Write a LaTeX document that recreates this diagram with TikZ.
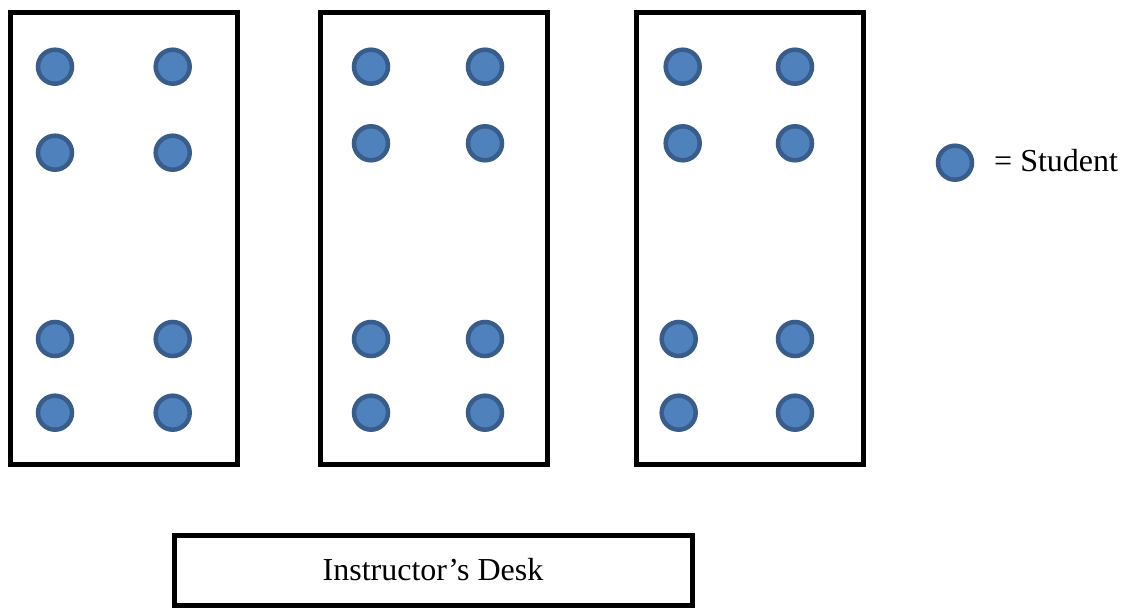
\documentclass[tikz,border=0pt]{standalone}
\usepackage{fontspec}
\setmainfont{Liberation Serif}
\definecolor{studfill}{HTML}{4F81BD}
\definecolor{studline}{HTML}{385D8A}
\tikzset{
  tablebox/.style={draw=black, line width=5pt, fill=white, inner sep=0pt, minimum width=227pt, minimum height=451.5pt},
  deskbox/.style={draw=black, line width=5pt, fill=white, inner sep=0pt, minimum width=518pt, minimum height=70pt, font=\fontsize{32}{38}\selectfont},
  student/.style={circle, draw=studline, fill=studfill, line width=4.5pt, minimum size=34pt, inner sep=0pt},
  legendtext/.style={font=\fontsize{32}{38}\selectfont, inner sep=0pt, anchor=base west}
}
\begin{document}
\begin{tikzpicture}[x=1pt,y=-1pt]
\useasboundingbox (0,0) rectangle (1128,608);
% tables
\node[tablebox] (t1) at (124,238.25) {};
\node[tablebox] (t2) at (434,238.25) {};
\node[tablebox] (t3) at (750,238.25) {};
% table 1 students
\node[student] (s11) at (55,66.7) {};
\node[student] (s12) at (172.7,66.7) {};
\node[student] (s13) at (55,152.7) {};
\node[student] (s14) at (172.7,152.7) {};
\node[student] (s15) at (55,339) {};
\node[student] (s16) at (172.7,339) {};
\node[student] (s17) at (55,412.7) {};
\node[student] (s18) at (172.7,412.7) {};
% table 2 students
\node[student] (s21) at (371,66.7) {};
\node[student] (s22) at (485,66.7) {};
\node[student] (s23) at (371,143.3) {};
\node[student] (s24) at (485,143.3) {};
\node[student] (s25) at (371,339) {};
\node[student] (s26) at (485,339) {};
\node[student] (s27) at (371,412.7) {};
\node[student] (s28) at (485,412.7) {};
% table 3 students
\node[student] (s31) at (682.7,66.7) {};
\node[student] (s32) at (795,66.7) {};
\node[student] (s33) at (682.7,143.3) {};
\node[student] (s34) at (795,143.3) {};
\node[student] (s35) at (678.7,339) {};
\node[student] (s36) at (795,339) {};
\node[student] (s37) at (678.7,412.7) {};
\node[student] (s38) at (795,412.7) {};
% legend
\node[student] (leg) at (955,162.7) {};
\node[legendtext] (legt) at (994,171.7) {= Student};
% desk
\node[deskbox] (desk) at (433,570) {Instructor’s Desk};
\end{tikzpicture}
\end{document}
